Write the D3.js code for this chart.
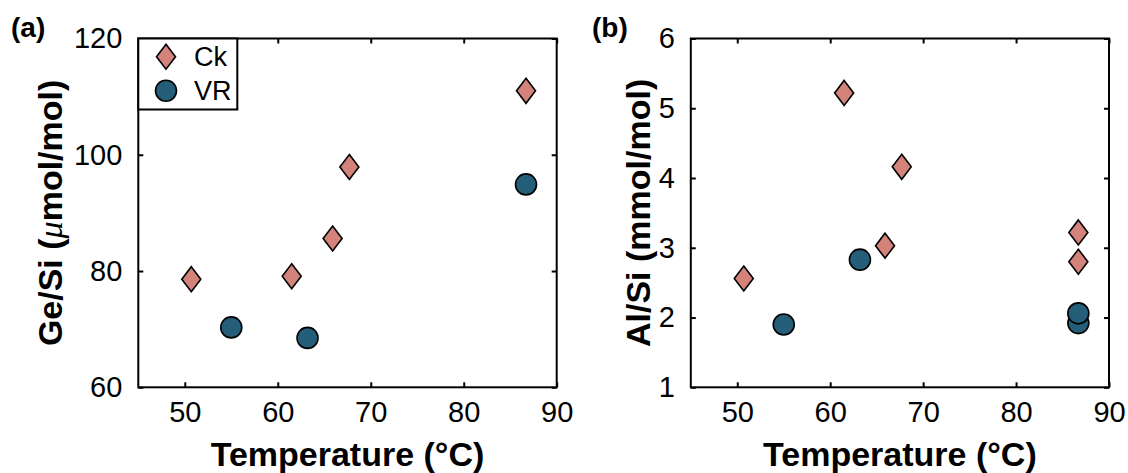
<!DOCTYPE html>
<html>
<head>
<meta charset="utf-8">
<script src="https://cdn.jsdelivr.net/npm/d3@7"></script>
<style>
  body { margin: 0; background: #fff; }
  text { font-family: "Liberation Sans", Arial, sans-serif; fill: #000; }
</style>
</head>
<body>
<div id="chart"></div>
<script>
// data
const seriesNames = ["Ck", "VR"]

// panel (a): Ge/Si
const ckTempA = [50.7, 61.5, 65.9, 67.7, 86.7]
const ckGeSi = [78.6, 79.1, 85.6, 97.9, 111.0]
const vrTempA = [55.0, 63.2, 86.7]
const vrGeSi = [70.3, 68.5, 94.9]

// panel (b): Al/Si
const ckTempB = [50.7, 61.5, 65.9, 67.7, 86.7, 86.7]
const ckAlSi = [2.56, 5.22, 3.03, 4.16, 3.22, 2.80]
const vrTempB = [55.0, 63.2, 86.7, 86.7]
const vrAlSi = [1.90, 2.83, 1.92, 2.06]

const xTicks = [50, 60, 70, 80, 90]
const yTicksA = [60, 80, 100, 120]
const yTicksB = [1, 2, 3, 4, 5, 6]

const ckColor = "#d4837a"
const vrColor = "#245e78"

let svg = d3.select("#chart").append("svg")
    .attr("width", 1128)
    .attr("height", 473)

let plotTop = 38.5, plotBottom = 387.3

// diamond path (MATLAB-style, taller than wide)
function diamond(x, y) {
    let w = 9.5, h = 12.5
    return `M${x},${y - h}L${x + w},${y}L${x},${y + h}L${x - w},${y}Z`
}

function drawPanel(opts) {
    let x = d3.scaleLinear().domain([45, 90]).range([opts.left, opts.right])
    let y = d3.scaleLinear().domain(opts.yDomain).range([plotBottom, plotTop])
    let g = svg.append("g")
    let fmt = d3.format("d")

    // ticks on all four sides, pointing inward
    g.append("g")
        .attr("transform", `translate(0,${plotBottom})`)
        .call(d3.axisBottom(x).tickValues(xTicks).tickFormat(fmt).tickSizeInner(-5).tickSizeOuter(0).tickPadding(14))
    g.append("g")
        .attr("transform", `translate(0,${plotTop})`)
        .call(d3.axisTop(x).tickValues(xTicks).tickSizeInner(-5).tickSizeOuter(0).tickFormat(""))
    g.append("g")
        .attr("transform", `translate(${opts.left},0)`)
        .call(d3.axisLeft(y).tickValues(opts.yTicks).tickFormat(fmt).tickSizeInner(-5).tickSizeOuter(0).tickPadding(16))
    g.append("g")
        .attr("transform", `translate(${opts.right},0)`)
        .call(d3.axisRight(y).tickValues(opts.yTicks).tickSizeInner(-5).tickSizeOuter(0).tickFormat(""))

    g.selectAll(".domain").remove()
    g.selectAll(".tick line").attr("stroke", "#000").attr("stroke-width", 2)
    g.selectAll(".tick text")
        .style("font-size", "29px")
        .style("font-family", "'Liberation Sans', Arial, sans-serif")
        .attr("fill", "#000")

    g.append("rect")
        .attr("x", opts.left).attr("y", plotTop)
        .attr("width", opts.right - opts.left).attr("height", plotBottom - plotTop)
        .attr("fill", "none").attr("stroke", "#000").attr("stroke-width", 2)

    // Ck diamonds
    g.selectAll(".ck")
        .data(opts.ckX.map((t, i) => ({ t: t, v: opts.ckY[i] })))
        .enter().append("path")
        .attr("class", "ck")
        .attr("d", d => diamond(x(d.t), y(d.v)))
        .attr("fill", ckColor).attr("stroke", "#000").attr("stroke-width", 1.6)

    // VR circles
    g.selectAll(".vr")
        .data(opts.vrX.map((t, i) => ({ t: t, v: opts.vrY[i] })))
        .enter().append("circle")
        .attr("class", "vr")
        .attr("cx", d => x(d.t)).attr("cy", d => y(d.v)).attr("r", 10.5)
        .attr("fill", vrColor).attr("stroke", "#000").attr("stroke-width", 1.6)

    // x label
    svg.append("text")
        .attr("x", (opts.left + opts.right) / 2)
        .attr("y", 466)
        .attr("text-anchor", "middle")
        .style("font-size", "34px").style("font-weight", "bold")
        .text("Temperature (°C)")

    // y label
    let yl = svg.append("text")
        .attr("transform", `translate(${opts.yLabelX},${(plotTop + plotBottom) / 2}) rotate(-90)`)
        .attr("text-anchor", "middle")
        .style("font-size", "34px").style("font-weight", "bold")
    opts.yLabel(yl)

    // panel letter
    svg.append("text")
        .attr("x", opts.letterX).attr("y", 37)
        .style("font-size", "28px").style("font-weight", "bold")
        .text(opts.letter)

    return { x: x, y: y }
}

drawPanel({
    left: 138.3, right: 556.7, yDomain: [60, 120], yTicks: yTicksA,
    ckX: ckTempA, ckY: ckGeSi, vrX: vrTempA, vrY: vrGeSi,
    yLabelX: 62, letter: "(a)", letterX: 11,
    yLabel: t => {
        t.append("tspan").text("Ge/Si (")
        t.append("tspan").text("μ")
            .style("font-style", "italic").style("font-weight", "normal")
            .style("font-family", "'Liberation Serif', serif")
        t.append("tspan").text("mol/mol)")
    }
})

drawPanel({
    left: 690.8, right: 1109, yDomain: [1, 6], yTicks: yTicksB,
    ckX: ckTempB, ckY: ckAlSi, vrX: vrTempB, vrY: vrAlSi,
    yLabelX: 650, letter: "(b)", letterX: 592,
    yLabel: t => t.text("Al/Si (mmol/mol)")
})

// legend in panel (a), top-left corner
let legend = svg.append("g")
legend.append("rect")
    .attr("x", 138.3).attr("y", plotTop)
    .attr("width", 99).attr("height", 71)
    .attr("fill", "#fff").attr("stroke", "#000").attr("stroke-width", 2)

let legendRows = legend.selectAll(".row")
    .data(seriesNames)
    .enter().append("g")
    .attr("class", "row")
    .attr("transform", (d, i) => `translate(166,${56.7 + i * 34})`)

legendRows.filter(d => d == "Ck").append("path")
    .attr("d", diamond(0, 0))
    .attr("fill", ckColor).attr("stroke", "#000").attr("stroke-width", 1.6)
legendRows.filter(d => d == "VR").append("circle")
    .attr("r", 10.5)
    .attr("fill", vrColor).attr("stroke", "#000").attr("stroke-width", 1.6)

legendRows.append("text")
    .attr("x", 28).attr("y", 0).attr("dy", "0.36em")
    .style("font-size", "27px")
    .text(d => d)
</script>
</body>
</html>
